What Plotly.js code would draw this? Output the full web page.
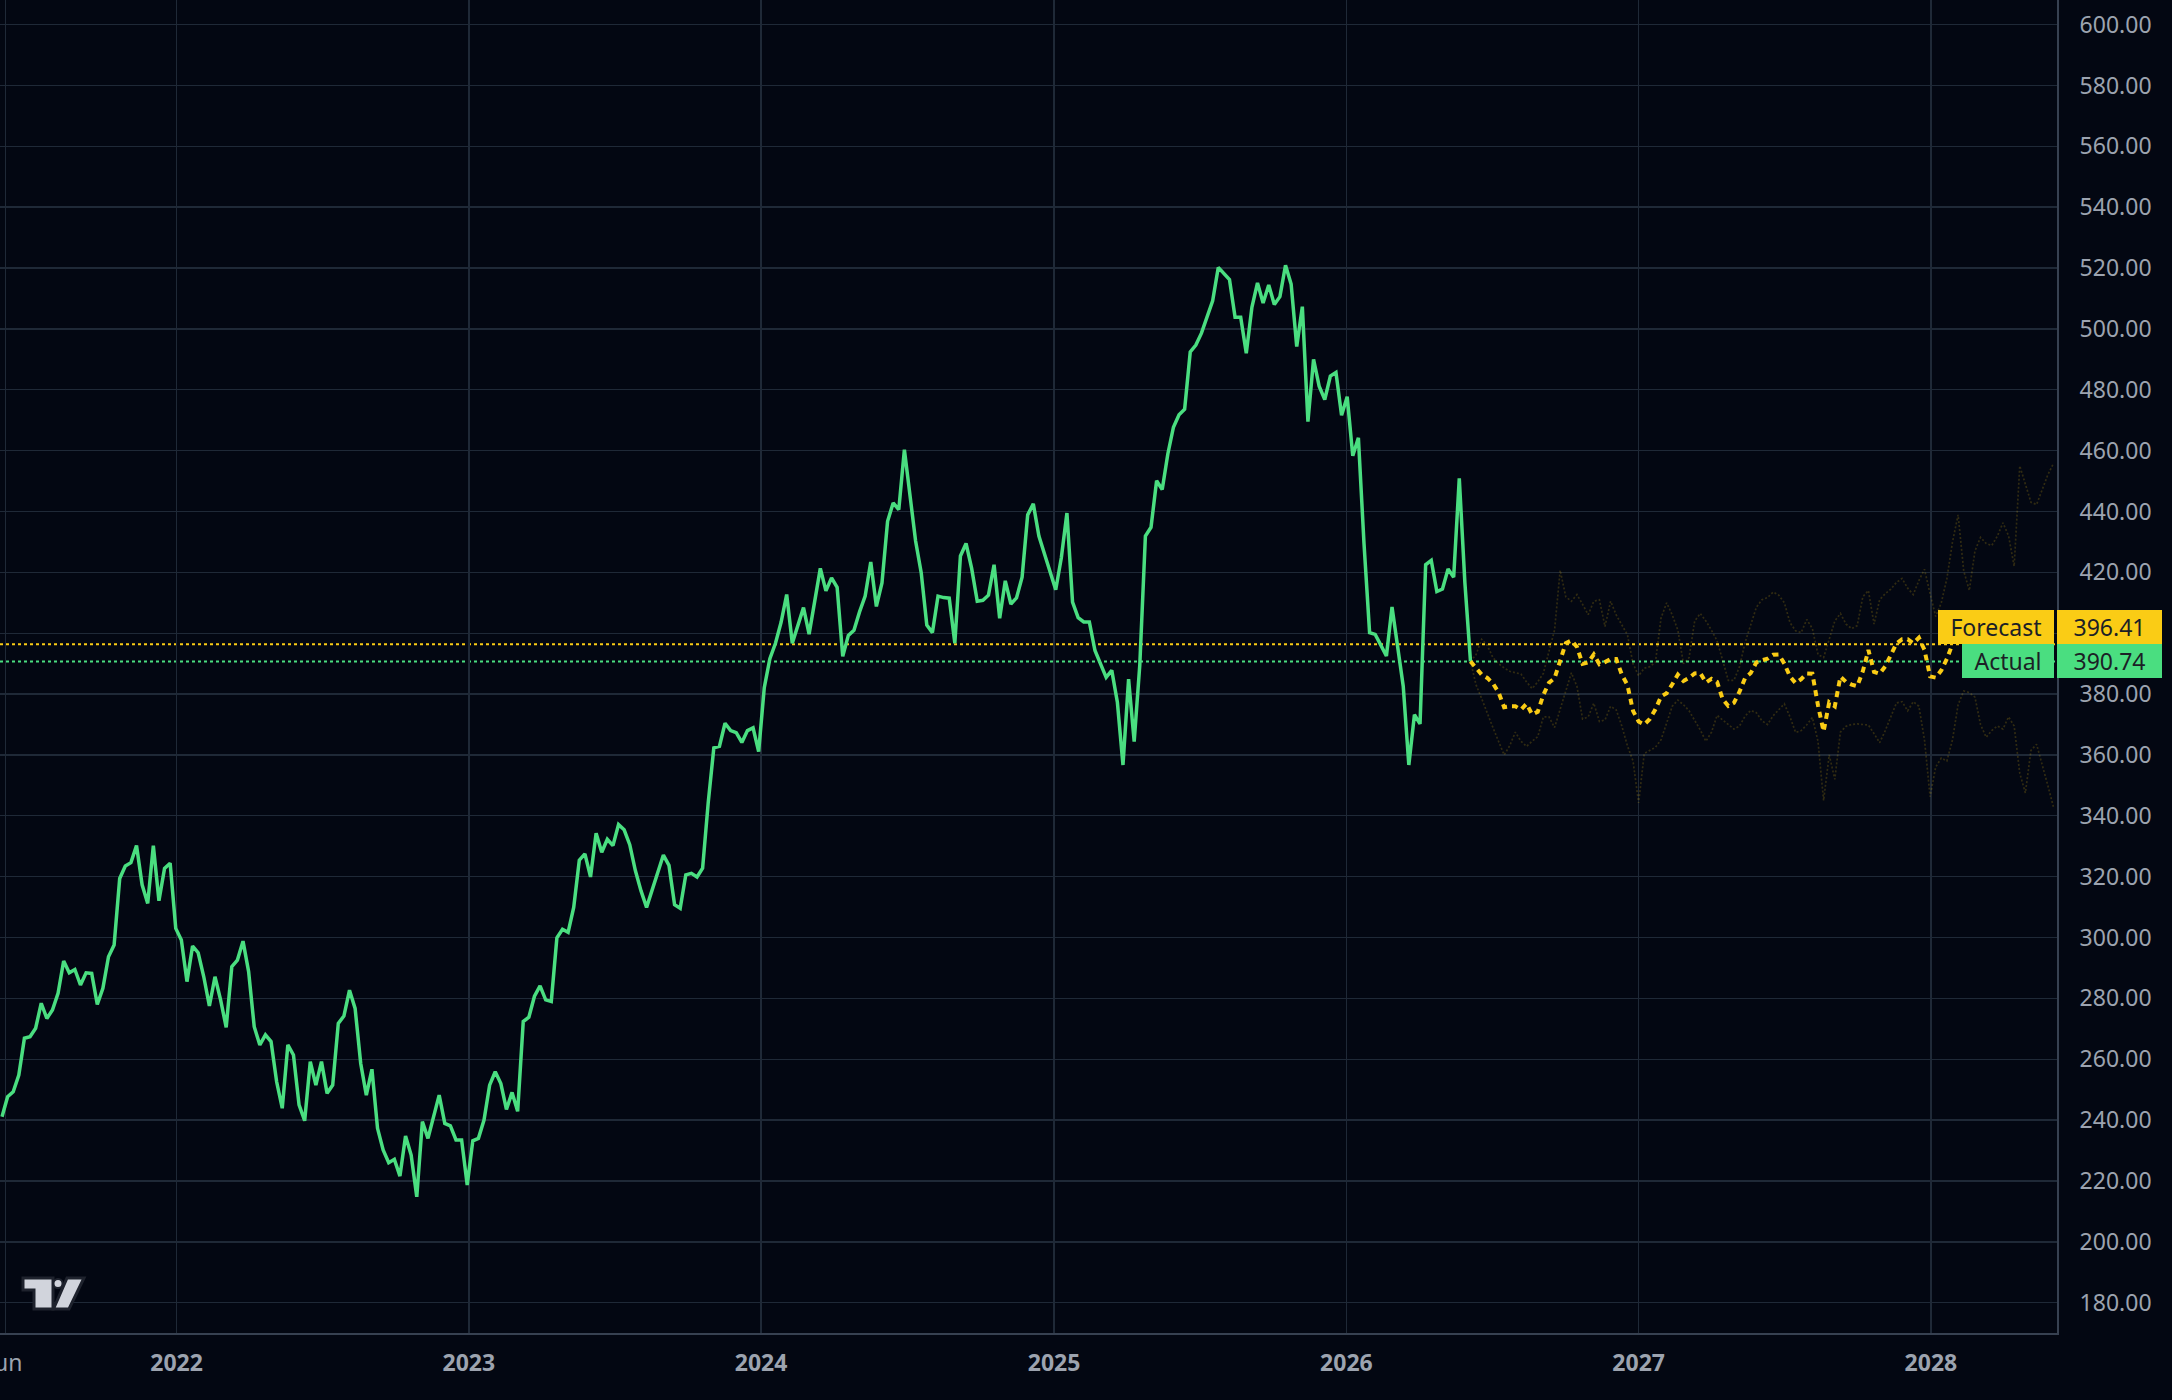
<!DOCTYPE html>
<html><head><meta charset="utf-8">
<script src="https://cdn.plot.ly/plotly-3.0.1.min.js"></script>
<style>html,body{margin:0;padding:0;background:#030712;}#chart{width:2172px;height:1400px;}</style>
</head><body><div id="chart"></div>
<script>
// ---- data ----
const actualStart = "2021-05-28";   // weekly closes
const actualValues = [
241.1,247.7,249.3,254.8,266.9,267.4,270.2,278.4,273.4,276.2,
281.7,292.3,288.4,289.5,284.4,288.4,288.2,278.0,283.3,293.7,
297.5,319.4,323.5,324.6,330.2,317.3,311.2,330.2,312.1,322.7,
324.4,303.0,299.2,285.5,297.2,295.0,287.1,277.5,287.1,279.5,
270.5,290.4,292.6,298.8,288.8,270.7,264.7,268.0,265.8,252.6,
243.9,264.7,261.4,245.0,239.8,259.2,251.5,259.2,248.8,251.5,
271.8,274.2,282.7,276.7,258.6,248.2,256.7,237.3,230.2,226.0,
227.1,221.6,234.8,228.5,214.8,239.5,234.0,241.1,248.2,238.9,
238.1,233.5,233.5,218.7,233.2,234.0,240.0,251.5,255.9,252.0,
243.5,249.1,242.9,272.4,273.8,280.7,284.1,279.5,279.0,299.9,
302.7,301.7,309.9,325.4,327.5,319.9,334.3,328.0,332.3,330.2,
337.1,335.4,330.5,322.0,315.4,309.9,315.9,321.1,327.1,323.7,
310.8,309.6,320.6,321.1,319.9,322.8,344.3,362.3,362.8,370.4,
368.0,367.3,364.1,368.0,368.9,361.1,382.1,391.6,396.7,403.6,
412.7,396.7,402.7,408.4,399.7,410.5,421.3,413.9,418.2,415.1,
392.4,399.3,401.0,407.0,412.2,423.4,408.8,416.5,436.8,442.8,
440.6,460.3,445.7,430.3,419.9,402.7,400.2,412.2,411.7,411.5,
396.7,425.4,429.5,421.3,410.5,410.8,412.5,422.5,404.9,417.2,
409.6,411.6,418.4,438.9,442.5,431.9,426.0,420.2,414.3,424.8,
439.5,410.2,405.1,403.7,403.7,394.3,390.2,385.5,387.8,377.3,
356.7,384.9,364.4,389.6,431.9,434.8,450.1,447.2,458.9,467.7,
471.8,473.6,492.4,494.7,498.6,504.1,509.2,520.2,518.2,516.2,
503.8,503.8,492.0,507.1,515.1,508.5,514.4,508.0,510.6,520.9,
514.7,494.2,507.3,469.5,490.0,481.2,476.8,484.5,485.7,471.6,
477.7,458.3,464.2,429.5,400.2,399.6,396.1,392.5,408.6,395.7,
382.6,356.7,373.2,370.2,422.5,423.9,413.7,414.5,421.1,418.4,
450.9,416.6,390.74
];
// weekly forecast, starting at the last actual week
const forecastValues = [
390.74,388.5,386.4,385.3,383.5,380.6,375.7,376.0,376.0,374.9,
376.8,373.3,374.2,379.7,383.7,385.2,391.2,396.7,397.6,395.5,
389.9,390.4,393.0,389.8,390.5,391.5,391.5,386.4,383.0,374.5,
371.0,370.0,371.8,375.0,379.2,380.3,383.2,386.4,384.3,385.3,
386.8,386.9,383.8,385.0,384.0,378.3,376.1,377.1,380.8,385.3,
386.9,390.4,391.1,391.6,392.9,393.0,390.0,385.8,383.6,384.9,
386.8,386.7,376.3,367.7,377.3,376.0,385.7,384.0,383.1,382.6,
387.5,394.5,387.3,386.7,389.1,393.0,396.6,398.0,398.0,396.7,
398.5,394.5,385.8,385.4,387.8,391.6,396.41
];
const upperValues = [
390.74,393.0,398.0,396.0,392.0,390.0,388.6,387.5,387.0,386.6,
384.0,381.8,384.0,386.8,394.0,401.0,420.7,412.0,410.5,412.7,
409.5,406.1,410.5,411.0,402.2,410.5,406.0,402.5,399.5,390.0,
386.0,388.5,389.0,390.5,405.0,410.0,406.0,401.0,390.0,392.0,
404.0,406.5,404.0,401.0,397.5,391.0,384.5,384.5,389.0,397.0,
403.0,408.5,411.0,411.7,413.5,412.5,410.0,403.5,400.8,400.2,
404.5,401.5,393.0,392.0,398.0,404.0,406.5,403.0,401.5,402.5,
412.0,414.0,403.0,411.0,413.0,414.5,416.7,418.0,414.8,412.7,
417.3,421.0,413.0,405.5,410.0,418.0,430.0,438.9,420.5,414.0,
427.0,431.5,429.5,428.8,431.9,436.3,432.0,422.0,455.0,448.8,
443.0,442.3,446.9,452.0,455.8
];
const lowerValues = [
390.74,383.0,378.5,373.5,369.0,364.5,360.0,363.0,367.5,364.5,
362.8,364.5,366.0,372.5,372.5,369.0,375.0,381.5,387.0,382.5,
371.8,372.5,377.0,371.0,371.5,376.0,374.8,369.5,363.0,358.0,
344.2,360.5,361.5,362.5,365.0,370.5,376.0,378.0,376.5,374.5,
371.5,368.2,364.5,367.5,373.0,371.5,370.0,368.5,369.5,372.8,
374.6,373.9,371.2,370.0,372.9,374.9,376.8,372.5,367.4,368.0,
369.9,372.3,364.5,345.0,360.0,352.0,367.5,369.4,370.0,370.2,
370.0,369.8,367.0,364.0,368.0,372.5,377.1,377.5,374.5,377.5,
376.0,365.0,346.3,356.0,359.0,358.0,365.0,376.5,381.0,380.5,
379.0,370.0,365.8,368.0,369.5,368.5,372.5,369.5,354.0,347.5,
361.5,363.5,357.0,350.0,343.0
];
const xTickDates  = ["2021-06-01","2022-01-01","2023-01-01","2024-01-01","2025-01-01","2026-01-01","2027-01-01","2028-01-01"];
const xTickLabels = ["Jun","<b>2022</b>","<b>2023</b>","<b>2024</b>","<b>2025</b>","<b>2026</b>","<b>2027</b>","<b>2028</b>"];
const yTickVals = [180,200,220,240,260,280,300,320,340,360,380,400,420,440,460,480,500,520,540,560,580,600];

// ---- colours ----
const BG = "#030712", GRID = "#1f2937", BORDER = "#374151", LABEL = "#9ca3af";
const GREEN = "#4ade80", YELLOW = "#facc15", FAINT = "rgba(250,204,21,0.19)", DARKTXT = "#1c1f26";

function weeklyDates(start, n) {
  const t0 = Date.parse(start + "T00:00:00Z");
  const out = [];
  for (let i = 0; i < n; i++) out.push(new Date(t0 + i * 7 * 864e5).toISOString().slice(0, 10));
  return out;
}
const actualDates = weeklyDates(actualStart, actualValues.length);
const forecastStart = actualDates[actualDates.length - 1];
const forecastDates = weeklyDates(forecastStart, forecastValues.length);
const bandDates = weeklyDates(forecastStart, upperValues.length);
const lastActual = actualValues[actualValues.length - 1];
const lastForecast = forecastValues[forecastValues.length - 1];

// tick labels that sit under the price boxes are hidden (as in the reference)
const yTickText = yTickVals.map(v => (Math.abs(v - (lastActual + lastForecast) / 2) < 8 ? "" : v.toFixed(2)));

const traces = [
  {x: bandDates, y: upperValues, type: "scatter", mode: "lines", line: {color: FAINT, width: 1.7, dash: "2px,2px"}, hoverinfo: "skip"},
  {x: bandDates, y: lowerValues, type: "scatter", mode: "lines", line: {color: FAINT, width: 1.7, dash: "2px,2px"}, hoverinfo: "skip"},
  {x: actualDates, y: actualValues, type: "scatter", mode: "lines", line: {color: GREEN, width: 3.5}, name: "Actual"},
  {x: forecastDates, y: forecastValues, type: "scatter", mode: "lines", line: {color: YELLOW, width: 4, dash: "6px,5px"}, name: "Forecast"}
];

// TradingView-like logo (decoration, pixel coords -> paper)
const PW = 2057, PH = 1333;
function P(x, y) { return (x / PW).toFixed(5) + "," + (1 - y / PH).toFixed(5); }
const logoT = "M" + P(23,1278) + "L" + P(53,1278) + "L" + P(53,1309) + "L" + P(34,1309) + "L" + P(34,1290) + "L" + P(23,1290) + "Z";
const logoS = "M" + P(67,1278) + "L" + P(84,1278) + "L" + P(69,1309) + "L" + P(53.5,1309) + "Z";

const shapes = [
  {type: "line", xref: "paper", x0: 0, x1: 1, yref: "y", y0: lastForecast, y1: lastForecast, layer: "below", line: {color: YELLOW, width: 2, dash: "3px,3px"}},
  {type: "line", xref: "paper", x0: 0, x1: 1, yref: "y", y0: lastActual, y1: lastActual, layer: "below", line: {color: GREEN, width: 2, dash: "3px,3px"}},
  {type: "path", xref: "paper", yref: "paper", path: logoT, fillcolor: "#d1d4dc", line: {color: "#1e222d", width: 3}},
  {type: "path", xref: "paper", yref: "paper", path: logoS, fillcolor: "#d1d4dc", line: {color: "#1e222d", width: 3}},
  {type: "circle", xref: "paper", yref: "paper", x0: 53.5/PW, x1: 62.5/PW, y0: 1 - 1288/PH, y1: 1 - 1279/PH, fillcolor: "#d1d4dc", line: {color: "#1e222d", width: 2}}
];

const boxFont = {family: "Noto Sans, sans-serif", size: 23, color: DARKTXT};
function box(text, y, color, anchor, w, yshift) {
  return {text: text, xref: "paper", x: 1, xanchor: anchor, xshift: anchor === "right" ? -3 : 0,
          yref: "y", y: y, yanchor: "middle", yshift: yshift, showarrow: false,
          bgcolor: color, borderwidth: 0, borderpad: 0, width: w, height: 34,
          align: "center", valign: "middle", font: boxFont};
}
const annotations = [
  box("Forecast", lastForecast, YELLOW, "right", 116, 17.5),
  box(lastForecast.toFixed(2), lastForecast, YELLOW, "left", 105, 17.5),
  box("Actual", lastActual, GREEN, "right", 92, 0),
  box(lastActual.toFixed(2), lastActual, GREEN, "left", 105, 0)
];

const layout = {
  width: 2172, height: 1400,
  paper_bgcolor: BG, plot_bgcolor: BG,
  margin: {l: 0, r: 115, t: 0, b: 67, pad: 0},
  showlegend: false,
  font: {family: "Noto Sans, sans-serif", size: 23, color: LABEL},
  xaxis: {
    type: "date", range: ["2021-05-25 12:00", "2028-06-06 12:00"],
    tickmode: "array", tickvals: xTickDates, ticktext: xTickLabels,
    showgrid: true, gridcolor: GRID, gridwidth: 1.4, zeroline: false,
    showline: true, linecolor: BORDER, linewidth: 2, ticks: "",
    tickfont: {family: "Noto Sans, sans-serif", size: 23, color: LABEL},
    ticklabelstandoff: 8, ticklabeloverflow: "allow", fixedrange: true
  },
  yaxis: {
    side: "right", range: [170.04, 608.08],
    tickmode: "array", tickvals: yTickVals, ticktext: yTickText,
    showgrid: true, gridcolor: GRID, gridwidth: 1.4, zeroline: false,
    showline: true, linecolor: BORDER, linewidth: 2, ticks: "",
    tickfont: {family: "Noto Sans, sans-serif", size: 23, color: LABEL},
    ticklabelstandoff: 16, fixedrange: true
  },
  shapes: shapes,
  annotations: annotations
};

Plotly.newPlot("chart", traces, layout, {displayModeBar: false, staticPlot: true});
</script>
</body></html>
